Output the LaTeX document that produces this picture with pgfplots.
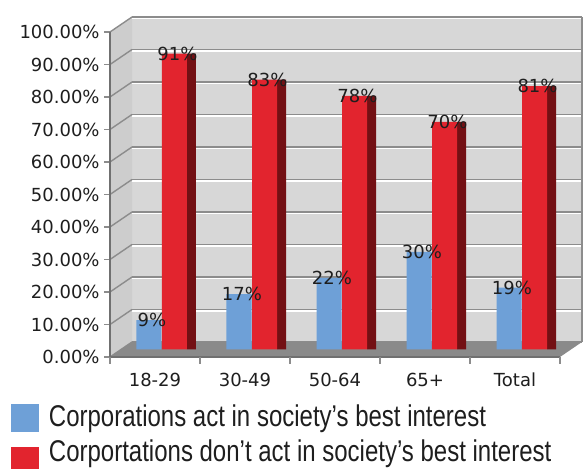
\documentclass[border=0pt]{standalone}
\usepackage{pgfplots}
\pgfplotsset{compat=1.18}
\usepackage{pgfplotstable}
\usepackage{fontspec}
\setmainfont{DejaVu Sans}
\newfontfamily\legendfont[FakeStretch=0.80]{Liberation Sans}
\definecolor{wallgray}{RGB}{215,215,215}
\definecolor{sidewall}{RGB}{205,205,205}
\definecolor{floorgray}{RGB}{138,138,138}
\definecolor{gridgray}{RGB}{140,140,140}
\definecolor{bluebar}{RGB}{110,160,215}
\definecolor{redbar}{RGB}{226,36,46}
\definecolor{redside}{RGB}{115,16,20}
\definecolor{txt}{RGB}{30,30,30}
\pgfplotstableread{
x act dont
0 9 91
1 17 83
2 22 78
3 30 70
4 19 81
}\datatable
\begin{document}
\begin{tikzpicture}
% pixel-based scope for the 3D frame (1px = 0.5pt)
\begin{scope}[x=0.5pt, y=-0.5pt, shift={(-60.5pt,174.75pt)}]
  % back wall
  \fill[wallgray] (132,17) rectangle (582,342);
  % left wall
  \fill[sidewall] (110,32) -- (132,17) -- (132,342) -- (110,357) -- cycle;
  % grid lines
  \foreach \k in {0,...,10} {
    \draw[white, line width=0.6pt] (132,{342-32.5*\k+1.5}) -- (582,{342-32.5*\k+1.5});
    \draw[gridgray, line width=0.7pt] (132,{342-32.5*\k}) -- (582,{342-32.5*\k});
    \draw[gridgray, line width=0.7pt] (110,{357-32.5*\k}) -- (132,{342-32.5*\k});
    \draw[gridgray, line width=0.6pt] (104,{357-32.5*\k}) -- (110,{357-32.5*\k});
  }
  \draw[gridgray, line width=0.6pt] (582,17) -- (582,342);
  % floor
  \fill[floorgray] (110,357) -- (560,357) -- (582,342) -- (132,342) -- cycle;
  \draw[gridgray!80!black, line width=0.6pt] (110,32) -- (110,357) -- (560,357);
  \foreach \j in {0,...,5} {
    \draw[gridgray, line width=0.6pt] ({110+90*\j},357) -- ({110+90*\j},364);
  }
\end{scope}
\begin{axis}[
  scale only axis,
  width=225pt, height=162.5pt,
  xmin=-0.5, xmax=4.5, ymin=0, ymax=100,
  clip=false,
  axis line style={draw=none},
  tick style={draw=none},
  major tick length=0pt,
  xtick={0,1,2,3,4},
  xticklabels={18-29,30-49,50-64,65+,Total},
  ytick={0,10,...,100},
  yticklabels={0.00\%,10.00\%,20.00\%,30.00\%,40.00\%,50.00\%,60.00\%,70.00\%,80.00\%,90.00\%,100.00\%},
  tick label style={font=\fontsize{9}{11}\selectfont, text=txt},
  yticklabel style={anchor=east, xshift=-10.5pt, yshift=-3.75pt, inner sep=0pt},
  xticklabel style={anchor=center, xshift=-5.5pt, yshift=-15.25pt, inner sep=0pt},
  legend style={at={(-0.245,-0.158)}, anchor=north west, draw=none, fill=none,
    inner sep=0pt, row sep=1pt, column sep=3pt,
    font=\legendfont\fontsize{15}{16}\selectfont, text=txt},
  legend cell align=left,
]
% dark sides of red bars
\addplot[ybar, bar width=4.5pt, bar shift=12.75pt, fill=redside, draw=none, forget plot]
  table[x=x, y=dont] {\datatable};
% red bars
\addplot[ybar, bar width=12.5pt, bar shift=4.25pt, fill=redbar, draw=none, forget plot,
  nodes near coords={\pgfmathprintnumber[assume math mode=true]{\pgfplotspointmeta}\%},
  every node near coord/.append style={anchor=center, xshift=5.75pt, yshift=0pt,
    font=\fontsize{9}{11}\selectfont, text=txt}]
  table[x=x, y=dont] {\datatable};
% blue bars
\addplot[ybar, bar width=12.5pt, bar shift=-8.5pt, fill=bluebar, draw=none, forget plot,
  nodes near coords={\pgfmathprintnumber[assume math mode=true]{\pgfplotspointmeta}\%},
  every node near coord/.append style={anchor=center, xshift=-7pt, yshift=0pt,
    font=\fontsize{9}{11}\selectfont, text=txt}]
  table[x=x, y=act] {\datatable};
\addlegendimage{legend image code/.code={\fill[bluebar] (0pt,-7pt) rectangle (13.5pt,6.5pt);}}
\addlegendentry{Corporations act in society’s best interest}
\addlegendimage{legend image code/.code={\fill[redbar] (0pt,-11pt) rectangle (13.5pt,2.5pt);}}
\addlegendentry{Corportations don’t act in society’s best interest}
\end{axis}
\pgfresetboundingbox
\path[use as bounding box] (-60.5pt,174.75pt) rectangle (233.5pt,-59.75pt);
\end{tikzpicture}
\end{document}
